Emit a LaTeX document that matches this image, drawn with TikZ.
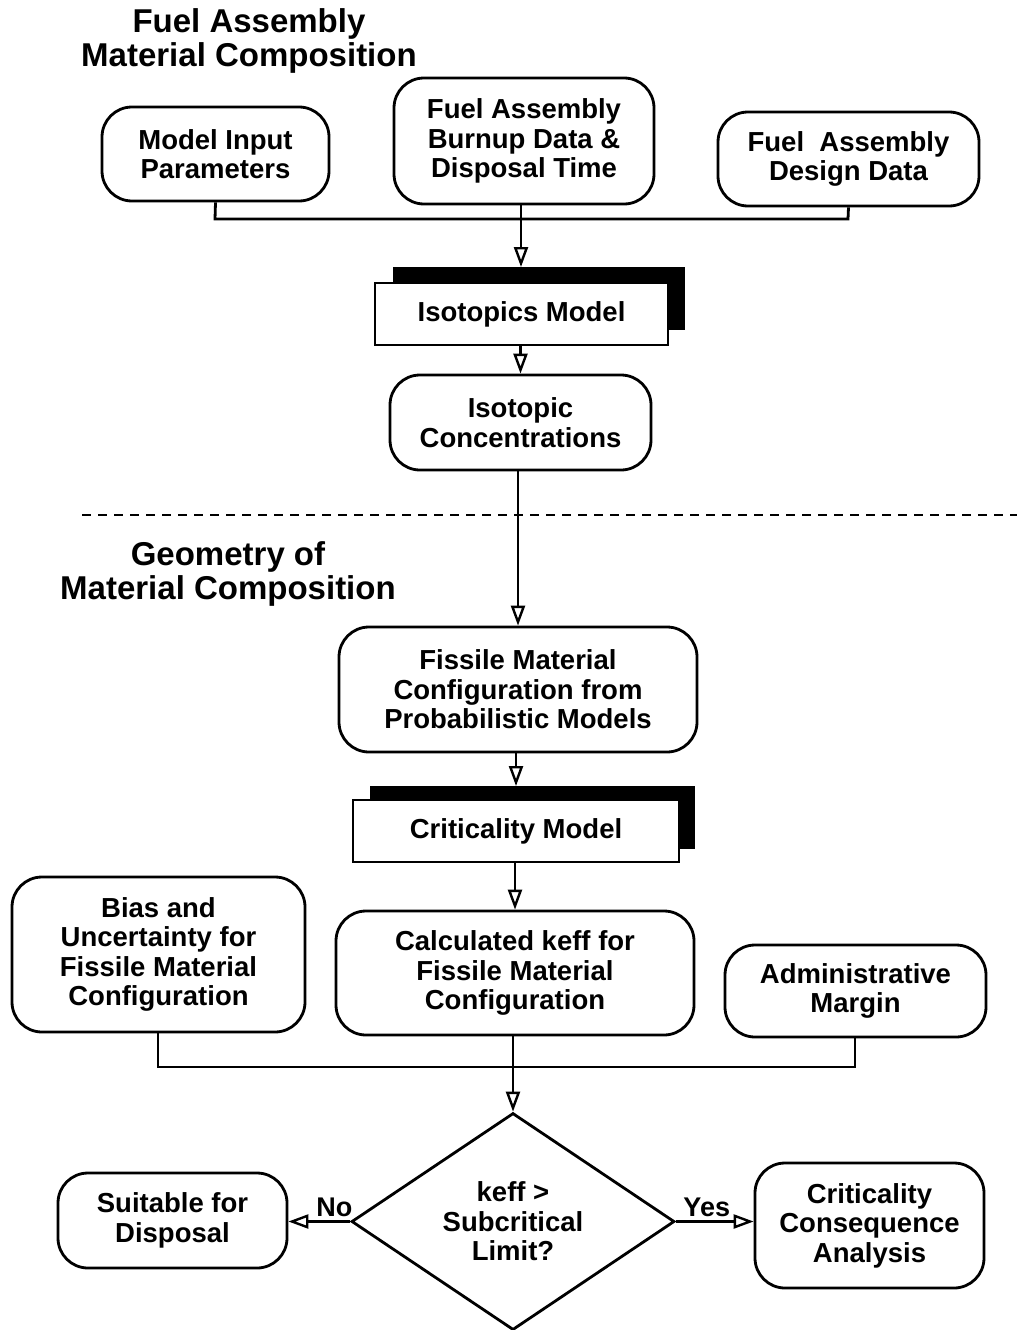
\documentclass[tikz,border=0pt]{standalone}
\usepackage{fontspec}
\setmainfont{Liberation Sans}
\usetikzlibrary{arrows.meta,shapes.geometric}
\begin{document}
\begin{tikzpicture}[x=1pt,y=-1pt,
  every node/.style={font=\bfseries\fontsize{27.5}{29.5}\selectfont, align=center},
  rbox/.style={draw, line width=2.8pt, rounded corners=30pt, inner sep=0pt},
  sbox/.style={draw, line width=2.4pt, fill=white, inner sep=0pt},
  title/.style={font=\bfseries\fontsize{33}{34.5}\selectfont, align=center},
  conn/.style={line width=2.8pt},
  arr/.style={line width=2.8pt, -{Triangle[open, length=20pt, width=14pt, line width=2.4pt]}},
  lbl/.style={font=\bfseries\fontsize{27}{29}\selectfont}
]
\useasboundingbox (0,0) rectangle (1017,1330);

% titles
\node[title] (t1) at (249,41) {Fuel Assembly\\Material Composition};
\node[title] (t2) at (228,574) {Geometry of\\Material Composition};

% top nodes
\node[rbox, minimum width=227pt, minimum height=94pt] (mip) at (215.5,154) {Model Input\\Parameters};
\node[rbox, minimum width=260pt, minimum height=126pt] (burn) at (524,141) {Fuel Assembly\\Burnup Data \&\\Disposal Time};
\node[rbox, minimum width=261pt, minimum height=94pt] (des) at (848.5,159) {Fuel\ \ Assembly\\Design Data};

% isotopics model with shadow
\fill (393,267) rectangle (685,330);
\node[sbox, minimum width=293pt, minimum height=62pt] (iso) at (521.5,314) {Isotopics Model};
\coordinate (isotop) at (521,267);

\node[rbox, minimum width=261pt, minimum height=95pt] (conc) at (520.5,422.5) {Isotopic\\Concentrations};

% dashed separator
\coordinate (d1) at (82,515);
\coordinate (d2) at (1017,515);
\draw[line width=1.8pt, dash pattern=on 9pt off 7pt] (d1) -- (d2);

\node[rbox, minimum width=358pt, minimum height=125pt] (fis) at (518,689.5) {Fissile Material\\Configuration from\\Probabilistic Models};

% criticality model with shadow
\fill (370,786) rectangle (695,849);
\node[sbox, minimum width=326pt, minimum height=62pt] (crit) at (516,831) {Criticality Model};
\coordinate (crittop) at (516,786);

\node[rbox, minimum width=293pt, minimum height=155pt] (bias) at (158.5,954.5) {Bias and\\Uncertainty for\\Fissile Material\\Configuration};
\node[rbox, minimum width=358pt, minimum height=124pt] (calc) at (515,973) {Calculated keff for\\Fissile Material\\Configuration};
\node[rbox, minimum width=261pt, minimum height=92pt] (adm) at (855.5,991) {Administrative\\Margin};

\node[diamond, draw, line width=2.8pt, minimum width=323pt, minimum height=217pt, inner sep=0pt, aspect=1.49] (dec) at (513,1221.5) {keff \textgreater\\Subcritical\\Limit?};

\node[rbox, minimum width=229pt, minimum height=95pt] (suit) at (172.5,1220.5) {Suitable for\\Disposal};
\node[rbox, minimum width=229pt, minimum height=125pt] (cca) at (869.5,1225.5) {Criticality\\Consequence\\Analysis};

% connectors top
\coordinate (j1) at (215,219);
\coordinate (j2) at (848,219);
\draw[conn] (mip.south) -- (j1) -- (j2) -- (des.south);
\draw[arr] (burn.south -| isotop) -- (isotop);
\draw[arr] (iso.south -| conc.north) -- (conc.north);
\draw[arr] (conc.south -| fis.north) -- (fis.north);
\draw[arr] (fis.south -| crittop) -- (crittop);
\draw[arr] (crit.south -| calc.north) -- (calc.north);

% connectors bottom
\coordinate (k1) at (158,1067);
\coordinate (k2) at (855,1067);
\draw[conn] (bias.south -| k1) -- (k1) -- (k2) -- (adm.south -| k2);
\draw[arr] (calc.south -| dec.north) -- (dec.north);

\draw[arr] (dec.west) -- node[lbl, above=0pt, xshift=15pt] (no) {No} (dec.west -| suit.east);
\draw[arr] (dec.east) -- node[lbl, above=0pt, xshift=-8pt] (yes) {Yes} (dec.east -| cca.west);
\end{tikzpicture}
\end{document}
